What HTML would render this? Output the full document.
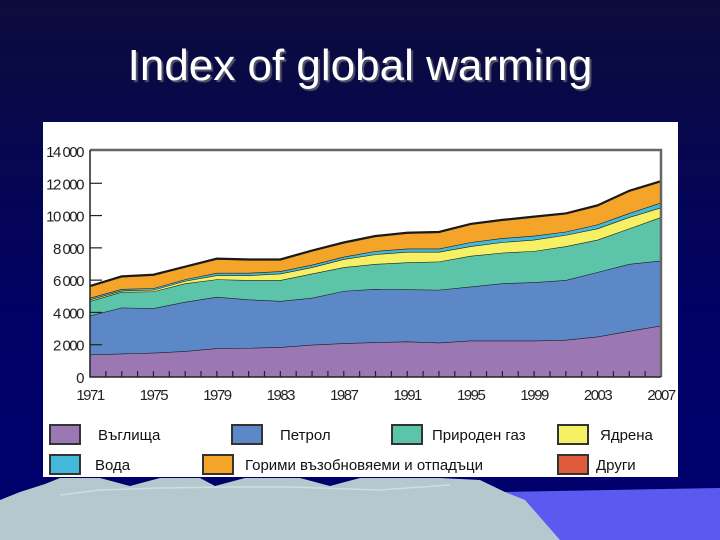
<!DOCTYPE html>
<html><head><meta charset="utf-8"><style>
body{margin:0;width:720px;height:540px;overflow:hidden;font-family:"Liberation Sans",sans-serif}
#bg{position:absolute;left:0;top:0;width:720px;height:540px;background:linear-gradient(#0c0c3c,#000066 60%,#00006e)}
#title{position:absolute;left:0;width:720px;top:41px;text-align:center;color:#fff;font-size:44px;text-shadow:2px 2px 1px #55556a}
</style></head><body>
<div id="bg"></div>
<div id="title">Index of global warming</div>
<svg id="chart" width="720" height="540" style="position:absolute;left:0;top:0">
<polygon points="500,492 720,488 720,540 540,540" fill="#5a5af0"/>
<rect x="43" y="122" width="635" height="355" fill="#fff"/>
<g id="areas"></g><g id="axes"></g>
<g id="legend" font-size="15" fill="#111"></g>
<polygon fill="#b4c8ce" points="0,500 20,492 45,484 60,478 100,478 130,486 160,478 200,478 215,486 245,478 300,478 330,486 360,478 400,478 440,478 480,480 505,492 525,500 560,540 0,540"/>
<polyline fill="none" stroke="#d0dde2" stroke-width="1.5" points="60,495 100,490 160,488 230,487 290,487 380,490 450,485"/>
</svg>
<script>
const years=[1971,1973,1975,1977,1979,1981,1983,1985,1987,1989,1991,1993,1995,1997,1999,2001,2003,2005,2007];
const coal=[1390,1450,1500,1600,1780,1800,1850,2000,2090,2150,2200,2130,2250,2250,2250,2300,2500,2850,3180];
const oil=[2410,2850,2760,3050,3180,3000,2860,2900,3240,3300,3230,3270,3350,3550,3620,3700,4000,4150,4030];
const gas=[900,970,1040,1150,1090,1200,1290,1500,1470,1550,1670,1750,1900,1900,1930,2100,2000,2200,2690];
const nuclear=[100,80,100,150,250,300,400,400,500,600,650,600,600,650,700,700,700,700,600];
const hydro=[100,100,100,100,150,150,150,150,150,200,200,200,250,250,250,200,250,250,300];
const renew=[700,750,800,750,850,800,700,850,850,900,950,1000,1100,1100,1150,1100,1150,1350,1300];
const other=[40,40,40,40,40,40,40,40,40,40,40,40,40,40,40,40,40,40,40];
const yTicks=[0,2000,4000,6000,8000,10000,12000,14000];
const yTickLabels=["0","2 000","4 000","6 000","8 000","10 000","12 000","14 000"];
const xTickLabels=[1971,1975,1979,1983,1987,1991,1995,1999,2003,2007];
const NS="http://www.w3.org/2000/svg";
const X0=90,X1=661,Y0=377,Y1=151;
const sx=v=>X0+(v-1971)/(2007-1971)*(X1-X0);
const sy=v=>Y0-v/14000*(Y0-Y1);
function mk(t,a,p){const e=document.createElementNS(NS,t);for(const k in a)e.setAttribute(k,a[k]);p.appendChild(e);return e;}
const series=[["coal",coal,"#9b78b4"],["oil",oil,"#5d88c8"],["gas",gas,"#5cc4a8"],["nuclear",nuclear,"#f6f064"],["hydro",hydro,"#44b8d8"],["renewables",renew,"#f4a428"],["other",other,"#e05a3c"]];
const areas=document.getElementById('areas');
let base=years.map(()=>0);
series.forEach(s=>{
  const top=base.map((b,i)=>b+s[1][i]);
  let pts=years.map((y,i)=>sx(y)+','+sy(top[i]));
  let bpts=years.map((y,i)=>sx(y)+','+sy(base[i])).reverse();
  const p=mk('polygon',{points:pts.concat(bpts).join(' '),fill:s[2]},areas);
  
  
  const l=mk('polyline',{points:pts.join(' '),fill:'none',stroke:'#1a1a1a','stroke-width':s[0]=='other'?2:1.2},areas);
  
  
  base=top;
});
const ax=document.getElementById('axes');
let a=mk('path',{d:`M${X0},${Y1-1}H${X1}V${Y0}`,fill:'none',stroke:'#666','stroke-width':2.5},ax);

a=mk('path',{d:`M${X0},${Y1-1}V${Y0}H${X1}`,fill:'none',stroke:'#222','stroke-width':1.5},ax);

yTicks.forEach((v,i)=>{
  if(v>0&&v<14000){const t=mk('line',{x1:X0,x2:X0+12,y1:sy(v),y2:sy(v),stroke:'#222','stroke-width':1.2},ax);
  }
  const tx=mk('text',{x:83,y:sy(v)+6,'font-size':15,'text-anchor':'end',fill:'#222','letter-spacing':'-1.5'},ax);
  tx.textContent=yTickLabels[i];
  
});
for(let y=1972;y<2007;y++){const t=mk('line',{x1:sx(y),x2:sx(y),y1:Y0,y2:Y0-6,stroke:'#222','stroke-width':1.2},ax);
  }
xTickLabels.forEach(y=>{const t=mk('text',{x:sx(y),y:400,'font-size':15,'text-anchor':'middle',fill:'#222','letter-spacing':'-1.5'},ax);
  t.textContent=y;});
const leg=[["Въглища","#9b78b4",50,425,98],["Петрол","#5d88c8",232,425,280],["Природен газ","#5cc4a8",392,425,432],["Ядрена","#f6f064",558,425,600],["Вода","#44b8d8",50,455,95],["Горими възобновяеми и отпадъци","#f4a428",203,455,245],["Други","#e05a3c",558,455,596]];
const lg=document.getElementById('legend');
leg.forEach(e=>{
  const r=mk('rect',{x:e[2],y:e[3],width:30,height:19,fill:e[1],stroke:'#333','stroke-width':2},lg);
  
  const t=mk('text',{x:e[4],y:e[3]+15},lg);t.textContent=e[0];
  
});
</script>
</body></html>
